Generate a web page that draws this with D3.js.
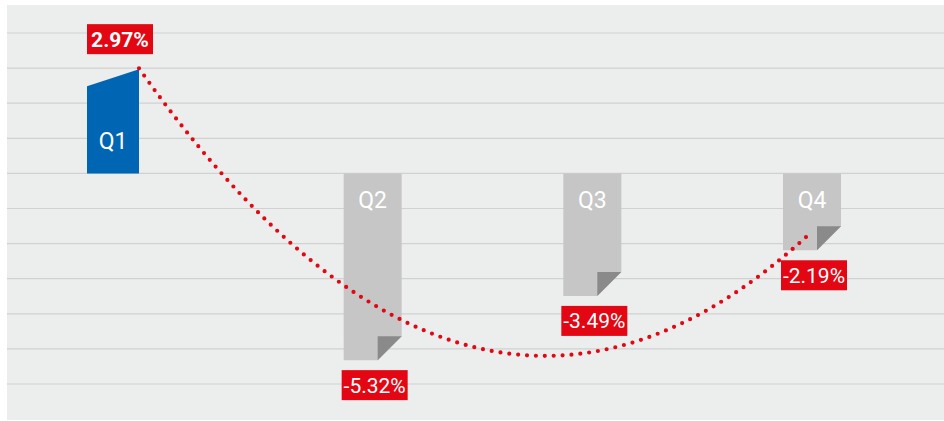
<!DOCTYPE html>
<html>
<head>
<meta charset="utf-8">
<script src="https://cdn.jsdelivr.net/npm/d3@7"></script>
<style>
  body { margin: 0; background: #fff; }
  svg { display: block; }
</style>
</head>
<body>
<div id="chart"></div>
<script>
const quarters = ['Q1', 'Q2', 'Q3', 'Q4'];
const changes = [2.97, -5.32, -3.49, -2.19];
const valueLabels = ['2.97%', '-5.32%', '-3.49%', '-2.19%'];
const gridValues = [4, 3, 2, 1, 0, -1, -2, -3, -4, -5, -6];

let width = 944, height = 421;
let panel = { left: 7, top: 5, right: 944, bottom: 420 };

let svg = d3.select('#chart')
  .append('svg')
  .attr('width', width)
  .attr('height', height);

svg.append('rect')
  .attr('x', panel.left)
  .attr('y', panel.top)
  .attr('width', panel.right - panel.left)
  .attr('height', panel.bottom - panel.top)
  .attr('fill', '#eceeed');

let yscale = d3.scaleLinear()
  .domain([4, -6])
  .range([33, 384]);

let xscale = d3.scaleLinear()
  .domain([0, quarters.length - 1])
  .range([153, 812]);

// grid
svg.selectAll('.grid')
  .data(gridValues)
  .enter()
  .append('line')
  .attr('class', 'grid')
  .attr('x1', panel.left)
  .attr('x2', panel.right)
  .attr('y1', d => yscale(d))
  .attr('y2', d => yscale(d))
  .attr('stroke', '#d0d1d1')
  .attr('stroke-width', 1.2);

// bar geometry: first quarter is the highlighted one, a bit narrower and set to the left
const fold = 24, slant = 17;
function barBox(i) {
  let w = i === 0 ? 52 : 58;
  let cx = xscale(i) + (i === 0 ? -40 : 0);
  return { left: cx - w / 2, right: cx + w / 2, cx: cx };
}

let y0 = yscale(0);

quarters.forEach(function(q, i) {
  let b = barBox(i);
  let yv = yscale(changes[i]);
  let g = svg.append('g');

  if (changes[i] >= 0) {
    g.append('polygon')
      .attr('points', [[b.left, y0], [b.left, yv + slant], [b.right, yv], [b.right, y0]].join(' '))
      .attr('fill', '#0066b3');
    g.append('text')
      .attr('x', b.cx)
      .attr('y', y0 - 24)
      .attr('text-anchor', 'middle')
      .attr('fill', '#fff')
      .attr('font-size', 23)
      .text(q);
  } else {
    g.append('polygon')
      .attr('points', [[b.left, y0], [b.right, y0], [b.right, yv - fold], [b.right - fold, yv], [b.left, yv]].join(' '))
      .attr('fill', '#c6c6c6');
    g.append('polygon')
      .attr('points', [[b.right - fold, yv - fold], [b.right, yv - fold], [b.right - fold, yv]].join(' '))
      .attr('fill', '#8a8a8a');
    g.append('text')
      .attr('x', b.cx)
      .attr('y', y0 + 35)
      .attr('text-anchor', 'middle')
      .attr('fill', '#fff')
      .attr('font-size', 23)
      .text(q);
  }
});

// polynomial (order 2) trend line, least squares over the quarter values
function quadFit(ys) {
  let s = [0, 0, 0, 0, 0], t = [0, 0, 0];
  ys.forEach(function(y, x) {
    for (let k = 0; k < 5; k++) s[k] += Math.pow(x, k);
    for (let k = 0; k < 3; k++) t[k] += y * Math.pow(x, k);
  });
  let A = [[s[0], s[1], s[2]], [s[1], s[2], s[3]], [s[2], s[3], s[4]]];
  let det = m => m[0][0] * (m[1][1] * m[2][2] - m[1][2] * m[2][1])
    - m[0][1] * (m[1][0] * m[2][2] - m[1][2] * m[2][0])
    + m[0][2] * (m[1][0] * m[2][1] - m[1][1] * m[2][0]);
  let D = det(A);
  let coef = [0, 1, 2].map(function(c) {
    let M = A.map((row, r) => row.map((v, j) => j === c ? t[r] : v));
    return det(M) / D;
  });
  return x => coef[0] + coef[1] * x + coef[2] * x * x;
}

const trend = quadFit(changes);
let tStart = xscale.invert(barBox(0).right);
let tEnd = quarters.length - 1;
let trendPts = d3.range(tStart, tEnd + 0.001, 0.01).map(t => ({ t: t, v: trend(t) }));

const line = d3.line()
  .x(d => xscale(d.t))
  .y(d => yscale(d.v));

svg.append('path')
  .datum(trendPts)
  .attr('fill', 'none')
  .attr('stroke', '#e30613')
  .attr('stroke-width', 4.2)
  .attr('stroke-linecap', 'round')
  .attr('stroke-dasharray', '0 8.9')
  .attr('d', line);

// value labels
const boxW = 66, boxH = 30;
quarters.forEach(function(q, i) {
  let b = barBox(i);
  let yv = yscale(changes[i]);
  let bx, by;
  if (changes[i] >= 0) {
    bx = b.left;
    by = yv - 15 - boxH;
  } else {
    bx = b.left - 2;
    by = yv + 10;
  }
  svg.append('rect')
    .attr('x', bx)
    .attr('y', by)
    .attr('width', boxW)
    .attr('height', boxH)
    .attr('fill', '#e30613');
  svg.append('text')
    .attr('x', bx + boxW / 2)
    .attr('y', by + 22.5)
    .attr('text-anchor', 'middle')
    .attr('fill', '#fff')
    .attr('font-size', 21)
    .attr('font-weight', changes[i] >= 0 ? 'bold' : 'normal')
    .text(valueLabels[i]);
});

svg.selectAll('text')
  .style('font-family', 'Roboto, "Noto Sans", sans-serif');
</script>
</body>
</html>
